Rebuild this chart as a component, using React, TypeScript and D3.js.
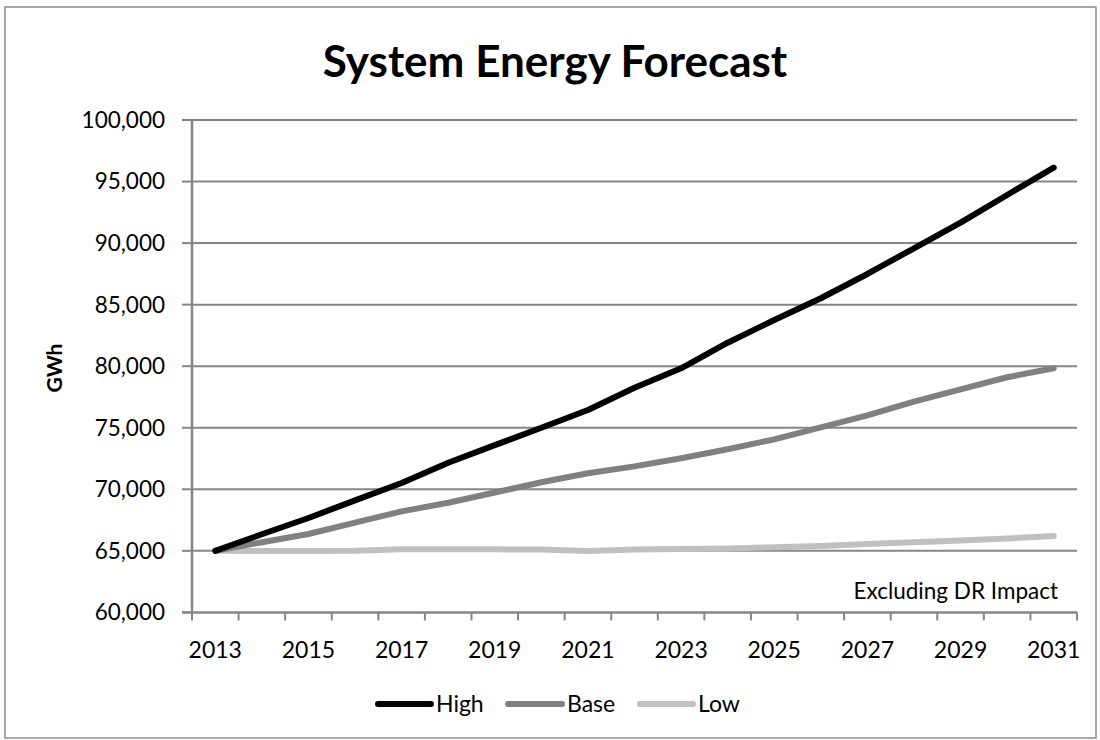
import React from "react";
import * as d3 from "d3";

const years = ["2013","2014","2015","2016","2017","2018","2019","2020","2021","2022","2023","2024","2025","2026","2027","2028","2029","2030","2031"];
const yearLabels = ["2013","2015","2017","2019","2021","2023","2025","2027","2029","2031"];
const highValues = [65000,66350,67670,69100,70510,72160,73590,75000,76440,78250,79830,81910,83750,85520,87490,89580,91660,93910,96130];
const baseValues = [65000,65700,66370,67290,68210,68910,69740,70570,71300,71860,72520,73250,74060,75030,76010,77120,78120,79100,79830];
const lowValues = [65000,64980,64980,65000,65120,65120,65120,65100,64990,65100,65150,65200,65300,65400,65550,65700,65850,66000,66200];
const yTicks = [60000,65000,70000,75000,80000,85000,90000,95000,100000];
const seriesNames = ["High","Base","Low"];
const seriesColors = ["#000000","#808080","#c0c0c0"];

const FONT = "Lato, 'Open Sans', sans-serif";

export default function App() {
  const left = 192, right = 1077, top = 120, bottom = 612.4;
  const x = d3.scaleBand<string>().domain(years).range([left, right]).padding(0);
  const y = d3.scaleLinear().domain([60000, 100000]).range([bottom, top]);
  const cx = (yr: string) => (x(yr) as number) + x.bandwidth() / 2;
  const line = d3.line<number>().x((_, i) => cx(years[i])).y((v) => y(v));
  const series = [highValues, baseValues, lowValues];
  const axisColor = "#868686";
  const boundaries = years.map((yr) => x(yr) as number).concat([right]);
  const fmt = d3.format(",");

  const legendItems = [
    { x1: 378, x2: 431, tx: 436 },
    { x1: 508, x2: 562, tx: 567 },
    { x1: 640, x2: 693, tx: 698 },
  ];

  return (
    <svg width={1100} height={740} style={{ position: "absolute", left: 0, top: 0 }} fontFamily={FONT}>
      <rect x={0} y={0} width={1100} height={740} fill="#fff" />
      <rect x={5} y={7} width={1091} height={731} fill="#fff" stroke="#8c8c8c" strokeWidth={1.5} />
      <text x={555} y={77} textAnchor="middle" fontSize={44} fontWeight="bold" fill="#000">System Energy Forecast</text>
      {yTicks.map((t) => (
        <g key={t}>
          {t > 60000 && <line x1={left} x2={right} y1={y(t)} y2={y(t)} stroke={axisColor} strokeWidth={2} />}
          <line x1={left - 10} x2={left} y1={y(t)} y2={y(t)} stroke={axisColor} strokeWidth={2} />
          <text x={165} y={y(t)} dy="0.35em" textAnchor="end" fontSize={22.5} fill="#000">{fmt(t)}</text>
        </g>
      ))}
      <line x1={left} x2={left} y1={top} y2={bottom} stroke={axisColor} strokeWidth={2.5} />
      <line x1={left - 10} x2={right} y1={bottom} y2={bottom} stroke={axisColor} strokeWidth={2.5} />
      {boundaries.map((bx, i) => (
        <line key={i} x1={bx} x2={bx} y1={bottom} y2={bottom + 8} stroke={axisColor} strokeWidth={2} />
      ))}
      {yearLabels.map((yr) => (
        <text key={yr} x={cx(yr)} y={658} textAnchor="middle" fontSize={23} fill="#000">{yr}</text>
      ))}
      <text transform={`translate(62,368) rotate(-90)`} textAnchor="middle" fontSize={21} fontWeight="bold" fill="#000">GWh</text>
      <text x={1058} y={599} textAnchor="end" fontSize={22.5} fill="#000">Excluding DR Impact</text>
      {[2, 1, 0].map((si) => (
        <path key={si} d={line(series[si]) as string} fill="none" stroke={seriesColors[si]} strokeWidth={6} strokeLinejoin="round" strokeLinecap="round" />
      ))}
      {legendItems.map((it, i) => (
        <g key={i}>
          <line x1={it.x1} x2={it.x2} y1={704} y2={704} stroke={seriesColors[i]} strokeWidth={6} strokeLinecap="round" />
          <text x={it.tx} y={712} fontSize={23} fill="#000">{seriesNames[i]}</text>
        </g>
      ))}
    </svg>
  );
}
